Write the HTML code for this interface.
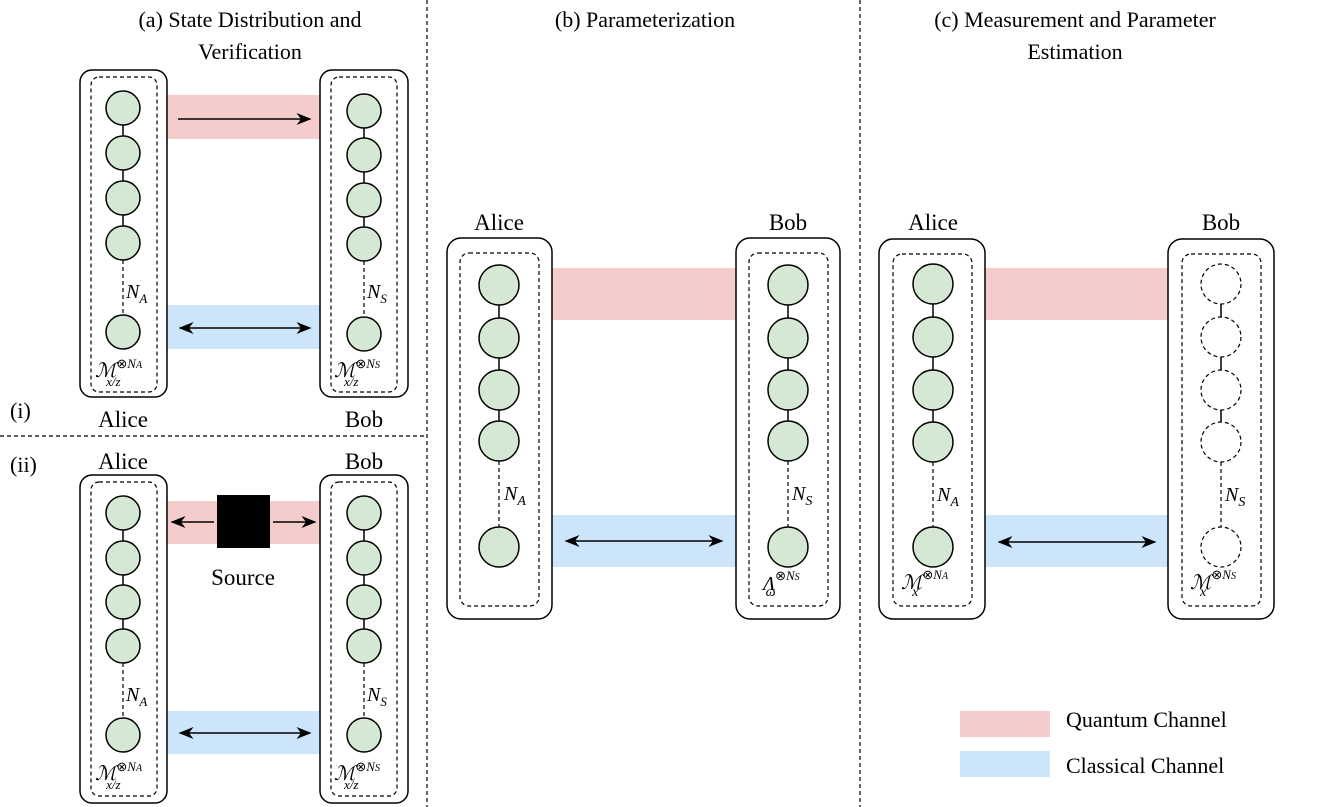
<!DOCTYPE html>
<html><head><meta charset="utf-8"><style>
html,body{margin:0;padding:0;background:#fff;}
svg{display:block;}
text{font-family:"Liberation Serif",serif;fill:#000;}
.t{font-size:22px;}
.l{font-size:23px;}
.m{font-style:italic;font-size:20px;}
.c{fill:#d5e8d4;stroke:#000;stroke-width:1.5;}
.cd{fill:none;stroke:#000;stroke-width:1.2;stroke-dasharray:4 3;}
.ob{fill:none;stroke:#000;stroke-width:1.5;}
.ib{fill:none;stroke:#000;stroke-width:1.2;stroke-dasharray:4 3;}
.ln{stroke:#000;stroke-width:1.5;}
.dl{stroke:#000;stroke-width:1.2;stroke-dasharray:4 3;}
.q{fill:#f4cccc;}
.k{fill:#cce5fb;}
.ar{stroke:#000;stroke-width:1.5;}
</style></head><body>
<svg width="1341" height="807" viewBox="0 0 1341 807" xmlns="http://www.w3.org/2000/svg">
<defs>
<marker id="a" viewBox="0 0 10 10" refX="9" refY="5" markerWidth="10" markerHeight="10" orient="auto-start-reverse"><path d="M0,1 L10,5 L0,9 L3,5 z" fill="#000"/></marker>
</defs>
<line x1="427" y1="0" x2="427" y2="807" class="dl"/>
<line x1="860" y1="0" x2="860" y2="807" class="dl"/>
<line x1="0" y1="436" x2="427" y2="436" class="dl"/>

<text x="250" y="27" class="t" text-anchor="middle">(a) State Distribution and</text>
<text x="250" y="59" class="t" text-anchor="middle">Verification</text>
<text x="645" y="27" class="t" text-anchor="middle">(b) Parameterization</text>
<text x="1075" y="27" class="t" text-anchor="middle">(c) Measurement and Parameter</text>
<text x="1075" y="59" class="t" text-anchor="middle">Estimation</text>

<!-- (a)(i) -->
<rect x="167" y="95" width="153" height="44" class="q"/>
<rect x="167" y="305" width="153" height="44" class="k"/>
<line x1="178" y1="119" x2="310" y2="119" class="ar" marker-end="url(#a)"/>
<line x1="180" y1="328" x2="310" y2="328" class="ar" marker-start="url(#a)" marker-end="url(#a)"/>
<rect x="80" y="70" width="87" height="327" rx="12" class="ob"/>
<rect x="91" y="77" width="66" height="315" rx="8" class="ib"/>
<line x1="123" y1="108" x2="123" y2="243" class="ln"/>
<line x1="123" y1="260" x2="123" y2="315" class="dl"/>
<circle cx="123" cy="108" r="17" class="c"/><circle cx="123" cy="153" r="17" class="c"/><circle cx="123" cy="198" r="17" class="c"/><circle cx="123" cy="243" r="17" class="c"/><circle cx="123" cy="332" r="17" class="c"/>
<text x="126" y="298" class="m">N<tspan font-size="13" dy="5">A</tspan></text>
<text x="95" y="377" class="m" font-size="24">ℳ<tspan font-size="13" dy="-9" font-style="normal">⊗</tspan><tspan font-size="13">N</tspan><tspan font-size="10">A</tspan><tspan font-size="13" dx="-36" dy="18">x/z</tspan></text>
<rect x="320" y="70" width="88" height="327" rx="12" class="ob"/>
<rect x="331" y="77" width="66" height="315" rx="8" class="ib"/>
<line x1="364" y1="111" x2="364" y2="244" class="ln"/>
<line x1="364" y1="261" x2="364" y2="317" class="dl"/>
<circle cx="364" cy="111" r="17" class="c"/><circle cx="364" cy="155" r="17" class="c"/><circle cx="364" cy="200" r="17" class="c"/><circle cx="364" cy="244" r="17" class="c"/><circle cx="364" cy="334" r="17" class="c"/>
<text x="367" y="298" class="m">N<tspan font-size="13" dy="5">S</tspan></text>
<text x="334" y="377" class="m" font-size="24">ℳ<tspan font-size="13" dy="-9" font-style="normal">⊗</tspan><tspan font-size="13">N</tspan><tspan font-size="10">S</tspan><tspan font-size="13" dx="-36" dy="18">x/z</tspan></text>
<text x="123" y="427" class="l" text-anchor="middle">Alice</text>
<text x="364" y="427" class="l" text-anchor="middle">Bob</text>
<text x="10" y="418" class="t">(i)</text>

<!-- (a)(ii) -->
<text x="10" y="472" class="t">(ii)</text>
<text x="123" y="469" class="l" text-anchor="middle">Alice</text>
<text x="364" y="469" class="l" text-anchor="middle">Bob</text>
<rect x="167" y="501" width="153" height="43" class="q"/>
<rect x="167" y="711" width="153" height="43" class="k"/>
<rect x="217" y="495" width="53" height="53" fill="#000"/>
<line x1="214" y1="522" x2="172" y2="522" class="ar" marker-end="url(#a)"/>
<line x1="273" y1="522" x2="315" y2="522" class="ar" marker-end="url(#a)"/>
<line x1="180" y1="733" x2="310" y2="733" class="ar" marker-start="url(#a)" marker-end="url(#a)"/>
<text x="243" y="585" class="l" text-anchor="middle">Source</text>
<rect x="80" y="475" width="87" height="328" rx="12" class="ob"/>
<rect x="91" y="482" width="66" height="314" rx="8" class="ib"/>
<line x1="123" y1="513" x2="123" y2="646" class="ln"/>
<line x1="123" y1="663" x2="123" y2="718" class="dl"/>
<circle cx="123" cy="513" r="17" class="c"/><circle cx="123" cy="558" r="17" class="c"/><circle cx="123" cy="602" r="17" class="c"/><circle cx="123" cy="646" r="17" class="c"/><circle cx="123" cy="735" r="17" class="c"/>
<text x="126" y="701" class="m">N<tspan font-size="13" dy="5">A</tspan></text>
<text x="95" y="780" class="m" font-size="24">ℳ<tspan font-size="13" dy="-9" font-style="normal">⊗</tspan><tspan font-size="13">N</tspan><tspan font-size="10">A</tspan><tspan font-size="13" dx="-36" dy="18">x/z</tspan></text>
<rect x="320" y="475" width="88" height="328" rx="12" class="ob"/>
<rect x="331" y="482" width="66" height="314" rx="8" class="ib"/>
<line x1="364" y1="513" x2="364" y2="646" class="ln"/>
<line x1="364" y1="663" x2="364" y2="718" class="dl"/>
<circle cx="364" cy="513" r="17" class="c"/><circle cx="364" cy="558" r="17" class="c"/><circle cx="364" cy="602" r="17" class="c"/><circle cx="364" cy="646" r="17" class="c"/><circle cx="364" cy="735" r="17" class="c"/>
<text x="367" y="701" class="m">N<tspan font-size="13" dy="5">S</tspan></text>
<text x="334" y="780" class="m" font-size="24">ℳ<tspan font-size="13" dy="-9" font-style="normal">⊗</tspan><tspan font-size="13">N</tspan><tspan font-size="10">S</tspan><tspan font-size="13" dx="-36" dy="18">x/z</tspan></text>

<!-- (b) -->
<text x="499" y="230" class="l" text-anchor="middle">Alice</text>
<text x="788" y="230" class="l" text-anchor="middle">Bob</text>
<rect x="552" y="268" width="184" height="52" class="q"/>
<rect x="552" y="515" width="184" height="52" class="k"/>
<line x1="566" y1="541" x2="722" y2="541" class="ar" marker-start="url(#a)" marker-end="url(#a)"/>
<rect x="447" y="238" width="105" height="381" rx="14" class="ob"/>
<rect x="460" y="253" width="79" height="353" rx="9" class="ib"/>
<line x1="499" y1="285" x2="499" y2="441" class="ln"/>
<line x1="499" y1="461" x2="499" y2="527" class="dl"/>
<circle cx="499" cy="285" r="20" class="c"/><circle cx="499" cy="338" r="20" class="c"/><circle cx="499" cy="390" r="20" class="c"/><circle cx="499" cy="441" r="20" class="c"/><circle cx="499" cy="547" r="20" class="c"/>
<text x="504" y="500" class="m" font-size="22">N<tspan font-size="14" dy="5">A</tspan></text>
<rect x="736" y="238" width="104" height="381" rx="14" class="ob"/>
<rect x="749" y="253" width="79" height="353" rx="9" class="ib"/>
<line x1="788" y1="285" x2="788" y2="441" class="ln"/>
<line x1="788" y1="461" x2="788" y2="527" class="dl"/>
<circle cx="788" cy="285" r="20" class="c"/><circle cx="788" cy="338" r="20" class="c"/><circle cx="788" cy="390" r="20" class="c"/><circle cx="788" cy="441" r="20" class="c"/><circle cx="788" cy="547" r="20" class="c"/>
<text x="792" y="500" class="m" font-size="22">N<tspan font-size="14" dy="5">S</tspan></text>
<text x="763" y="590" class="m" font-size="22">Λ<tspan font-size="13" dy="-10" font-style="normal">⊗</tspan><tspan font-size="13">N</tspan><tspan font-size="10">S</tspan><tspan font-size="14" dx="-34" dy="16">ω</tspan></text>

<!-- (c) -->
<text x="933" y="230" class="l" text-anchor="middle">Alice</text>
<text x="1221" y="230" class="l" text-anchor="middle">Bob</text>
<rect x="985" y="268" width="183" height="52" class="q"/>
<rect x="985" y="515" width="183" height="52" class="k"/>
<line x1="999" y1="542" x2="1155" y2="542" class="ar" marker-start="url(#a)" marker-end="url(#a)"/>
<rect x="879" y="239" width="106" height="380" rx="14" class="ob"/>
<rect x="893" y="254" width="79" height="352" rx="9" class="ib"/>
<line x1="933" y1="284" x2="933" y2="442" class="ln"/>
<line x1="933" y1="462" x2="933" y2="527" class="dl"/>
<circle cx="933" cy="284" r="20" class="c"/><circle cx="933" cy="337" r="20" class="c"/><circle cx="933" cy="390" r="20" class="c"/><circle cx="933" cy="442" r="20" class="c"/><circle cx="933" cy="547" r="20" class="c"/>
<text x="937" y="501" class="m" font-size="22">N<tspan font-size="14" dy="5">A</tspan></text>
<text x="901" y="589" class="m" font-size="25">ℳ<tspan font-size="13" dy="-10" font-style="normal">⊗</tspan><tspan font-size="13">N</tspan><tspan font-size="10">A</tspan><tspan font-size="14" dx="-36" dy="17">x</tspan></text>
<rect x="1168" y="239" width="106" height="380" rx="14" class="ob"/>
<rect x="1182" y="254" width="79" height="352" rx="9" class="ib"/>
<line x1="1221" y1="304" x2="1221" y2="317" class="ln"/>
<line x1="1221" y1="357" x2="1221" y2="370" class="ln"/>
<line x1="1221" y1="410" x2="1221" y2="422" class="ln"/>
<line x1="1221" y1="462" x2="1221" y2="527" class="dl"/>
<circle cx="1221" cy="284" r="20" class="cd"/><circle cx="1221" cy="337" r="20" class="cd"/><circle cx="1221" cy="390" r="20" class="cd"/><circle cx="1221" cy="442" r="20" class="cd"/><circle cx="1221" cy="547" r="20" class="cd"/>
<text x="1225" y="501" class="m" font-size="22">N<tspan font-size="14" dy="5">S</tspan></text>
<text x="1190" y="589" class="m" font-size="25">ℳ<tspan font-size="13" dy="-10" font-style="normal">⊗</tspan><tspan font-size="13">N</tspan><tspan font-size="10">S</tspan><tspan font-size="14" dx="-36" dy="17">x</tspan></text>

<!-- legend -->
<rect x="960" y="711" width="90" height="26" class="q"/>
<rect x="960" y="751" width="90" height="26" class="k"/>
<text x="1066" y="727" class="t" font-size="21">Quantum Channel</text>
<text x="1066" y="773" class="t" font-size="21">Classical Channel</text>
</svg>
</body></html>
